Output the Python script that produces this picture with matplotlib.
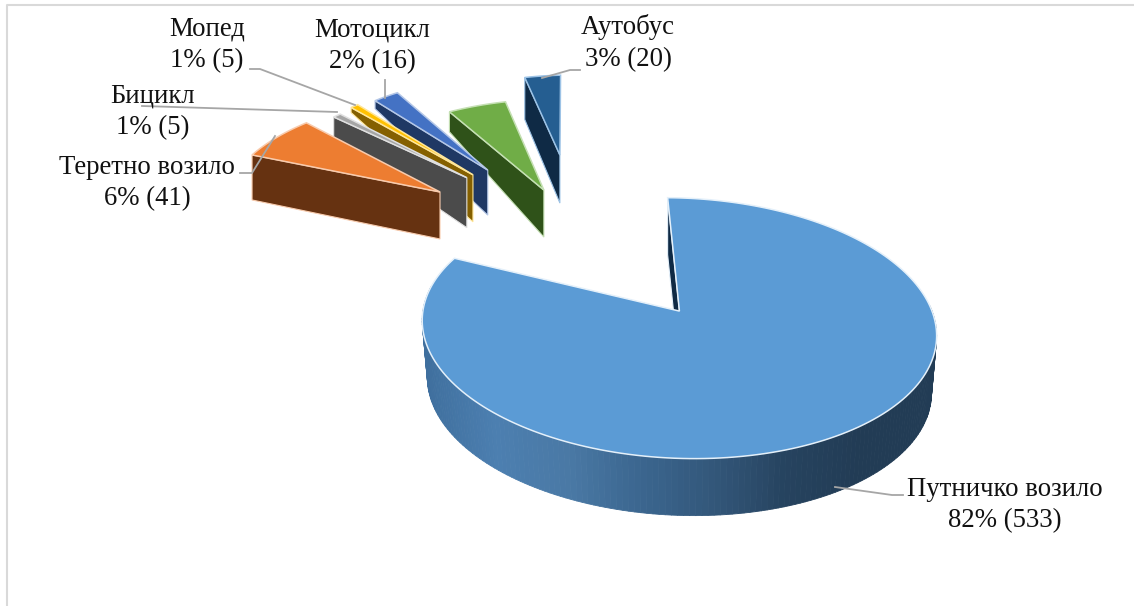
import numpy as np
import matplotlib
matplotlib.use("Agg")
import matplotlib.pyplot as plt
from matplotlib.collections import PolyCollection
from matplotlib.colors import LinearSegmentedColormap

names = ["Путничко возило", "Теретно возило", "Бицикл", "Мопед", "Мотоцикл", None, "Аутобус"]
values = [533, 41, 5, 5, 16, 30, 20]

top_colors = ["#5b9bd5", "#ed7d31", "#a5a5a5", "#ffc000", "#4472c4", "#70ad47", "#255e91"]
wall_colors = ["#0f2a45", "#663211", "#4b4b4b", "#856000", "#1f3864", "#2f5219", "#0f2a45"]
edge_colors = ["#e4f0fa", "#f8cbad", "#e0e0e0", "#ffe699", "#b4c7e7", "#c5e0b4", "#9dc3e6"]

# pie geometry, all in pixels of the 1134x606 picture
center = (585, 242)
flat = 0.52
start_angle = -3.0
explode = [163, 174, 171, 171, 169, 108, 169]
radius_x = [255, 213, 188, 181, 177, 205, 186]
radius_y = [128, 98, 86, 91, 90, 91, 80]
persp = [0.131, 0, 0, 0, 0, 0, 0]
lean = [0, 0.25, 0, 0, 0, 0.13, 0.13]
tilt = [0.03, 0, 0, 0, 0, 0, 0]
wall_apex = [57, 47, 50, 47, 45, 47, 48]
wall_outer = [57, 45, 20, 5, 8, 20, 42]
wall_narrow = 0.98

fig = plt.figure(figsize=(11.34, 6.06), dpi=100)
ax = fig.add_axes([0, 0, 1, 1])
ax.set_xlim(0, 1134)
ax.set_ylim(606, 0)
ax.axis("off")
plt.rcParams["font.family"] = ["Liberation Serif", "DejaVu Serif"]

# chart frame, the right and bottom sides are cut off in the picture
ax.plot([7, 7, 1134], [606, 5, 5], color="#d9d9d9", lw=1.5)

total = sum(values)
spans = [v / total * 360 for v in values]
starts = start_angle + np.concatenate([[0], np.cumsum(spans)[:-1]])


def rim(i, theta, apex):
    # point on the outer edge of slice i, theta in degrees clockwise from up
    t = np.radians(theta)
    s, c = np.sin(t), np.cos(t)
    d = 1 + persp[i] * c
    dx = radius_x[i] * s / d
    dy = radius_y[i] * c / d
    return apex[0] + dx + lean[i] * dy, apex[1] - dy + tilt[i] * dx


apexes = []
for i in range(len(values)):
    mid = np.radians(starts[i] + spans[i] / 2)
    apexes.append((center[0] + explode[i] * np.sin(mid),
                   center[1] - explode[i] * np.cos(mid) * flat))

# car slice: curved wall first, lighter on the left and dark on the right
wall_cmap = LinearSegmentedColormap.from_list(
    "wall", ["#3f6f9e", "#4c7fb0", "#4a79a5", "#3b668f", "#33577a", "#26435f", "#223c55", "#223c55"])
thetas = np.linspace(84, 278, 160)
xs, ys = rim(0, thetas, apexes[0])
xb = apexes[0][0] + (xs - apexes[0][0]) * wall_narrow
strips = []
for k in range(len(thetas) - 1):
    strips.append([(xs[k], ys[k]), (xs[k + 1], ys[k + 1]),
                   (xb[k + 1], ys[k + 1] + wall_apex[0]), (xb[k], ys[k] + wall_apex[0])])
shade = (xs[:-1] - xs.min()) / (xs.max() - xs.min())
ax.add_collection(PolyCollection(strips, facecolors=wall_cmap(shade),
                                 edgecolors=wall_cmap(shade), linewidths=0.6, zorder=2))

# draw from the back slice to the front one
for i in [6, 5, 4, 3, 2, 1, 0]:
    a = apexes[i]
    s0 = rim(i, starts[i], a)
    wall = [s0, a, (a[0], a[1] + wall_apex[i]), (s0[0], s0[1] + wall_outer[i])]
    ax.fill(*zip(*wall), facecolor=wall_colors[i], edgecolor=edge_colors[i], lw=0.8, zorder=3)
    arc_t = np.linspace(starts[i], starts[i] + spans[i], 200)
    arc_x, arc_y = rim(i, arc_t, a)
    top_x = np.concatenate([[a[0]], arc_x])
    top_y = np.concatenate([[a[1]], arc_y])
    ax.fill(top_x, top_y, facecolor=top_colors[i], edgecolor=edge_colors[i], lw=1.1, zorder=4)

# leader lines
leaders = [
    ([903, 892, 835], [495, 495, 487]),
    ([240, 252, 275], [173, 173, 136]),
    ([142, 337], [106, 112]),
    ([250, 260, 355], [69, 69, 105]),
    ([385, 385], [80, 98]),
    ([580, 570, 542], [70, 70, 78]),
]
for lx, ly in leaders:
    ax.plot(lx, ly, color="#a6a6a6", lw=1.3, zorder=5)

# labels
label_pos = [(1005, 505), (147, 183), (153, 112), (207, 45), (372, 46), None, (628, 43)]
for name, v, pos in zip(names, values, label_pos):
    if name is None:
        continue
    pct = round(v / total * 100)
    ax.text(pos[0], pos[1], f"{name}\n{pct}% ({v})", ha="center", va="center",
            fontsize=19.3, linespacing=1.33, color="#111111", zorder=6)

fig.savefig("out.png", dpi=100)
